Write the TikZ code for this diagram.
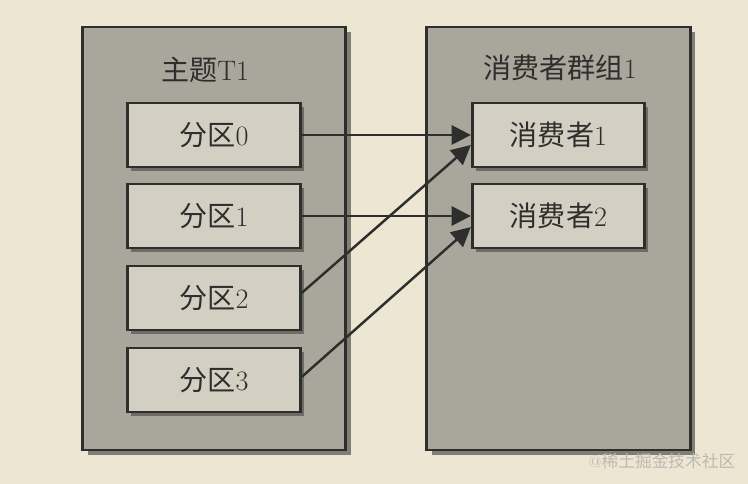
\documentclass[tikz,border=0pt]{standalone}
\usepackage{fontspec}
\newfontfamily\cjk{Noto Sans CJK SC}
\usepackage{tikz}
\usetikzlibrary{arrows.meta,shadows}

\definecolor{paper}{HTML}{ECE6D3}
\definecolor{outerfill}{HTML}{A9A69B}
\definecolor{innerfill}{HTML}{D3D0C3}
\definecolor{ink}{HTML}{2E2E2C}
\definecolor{wmgray}{HTML}{BDBAB1}

\begin{document}
\begin{tikzpicture}[
  x=0.02cm, y=-0.02cm,
  >=Triangle,
  every node/.append style={text=ink, font=\fontsize{16}{18}\selectfont},
  grp/.style={
    draw=ink, line width=1.6pt, fill=outerfill,
    minimum width=5.27cm, minimum height=8.46cm, inner sep=0pt,
    drop shadow={shadow xshift=3pt, shadow yshift=-3pt, opacity=0.45, fill=black}
  },
  box/.style={
    draw=ink, line width=1.6pt, fill=innerfill,
    minimum width=3.45cm, minimum height=1.28cm, inner sep=0pt,
    drop shadow={shadow xshift=2pt, shadow yshift=-2pt, opacity=0.35, fill=black}
  },
  link/.style={-{Triangle[length=11pt, width=11pt]}, line width=1.4pt, draw=ink},
  wmark/.style={text=wmgray, font=\fontsize{9.5}{11}\selectfont}
]
\fill[paper] (0,0) rectangle (748,484);
\useasboundingbox (0,0) rectangle (748,484);

% Topic side
\node[grp] (topic) at (214,238.5) {};
\node (topicname) at (205,70) {{\cjk 主题}T1};
\node[box] (part0) at (214,135) {{\cjk 分区}0};
\node[box] (part1) at (214,216) {{\cjk 分区}1};
\node[box] (part2) at (214,298) {{\cjk 分区}2};
\node[box] (part3) at (214,380) {{\cjk 分区}3};

% Consumer group side
\node[grp] (group) at (558.5,238.5) {};
\node (groupname) at (560,68) {{\cjk 消费者群组}1};
\node[box] (cons1) at (558.5,135) {{\cjk 消费者}1};
\node[box] (cons2) at (558.5,216) {{\cjk 消费者}2};

% Partitions -> consumers
\draw[link] (part0.east) -- (cons1.west);
\draw[link] (part1.east) -- (cons2.west);
\draw[link] ([yshift=0.1cm]part2.east) -- ([yshift=-0.2cm]cons1.west);
\draw[link] ([yshift=0.06cm]part3.east) -- ([yshift=-0.22cm]cons2.west);

\node[wmark] (wm) at (662,461) {@{\cjk 稀土掘金技术社区}};
\end{tikzpicture}
\end{document}
